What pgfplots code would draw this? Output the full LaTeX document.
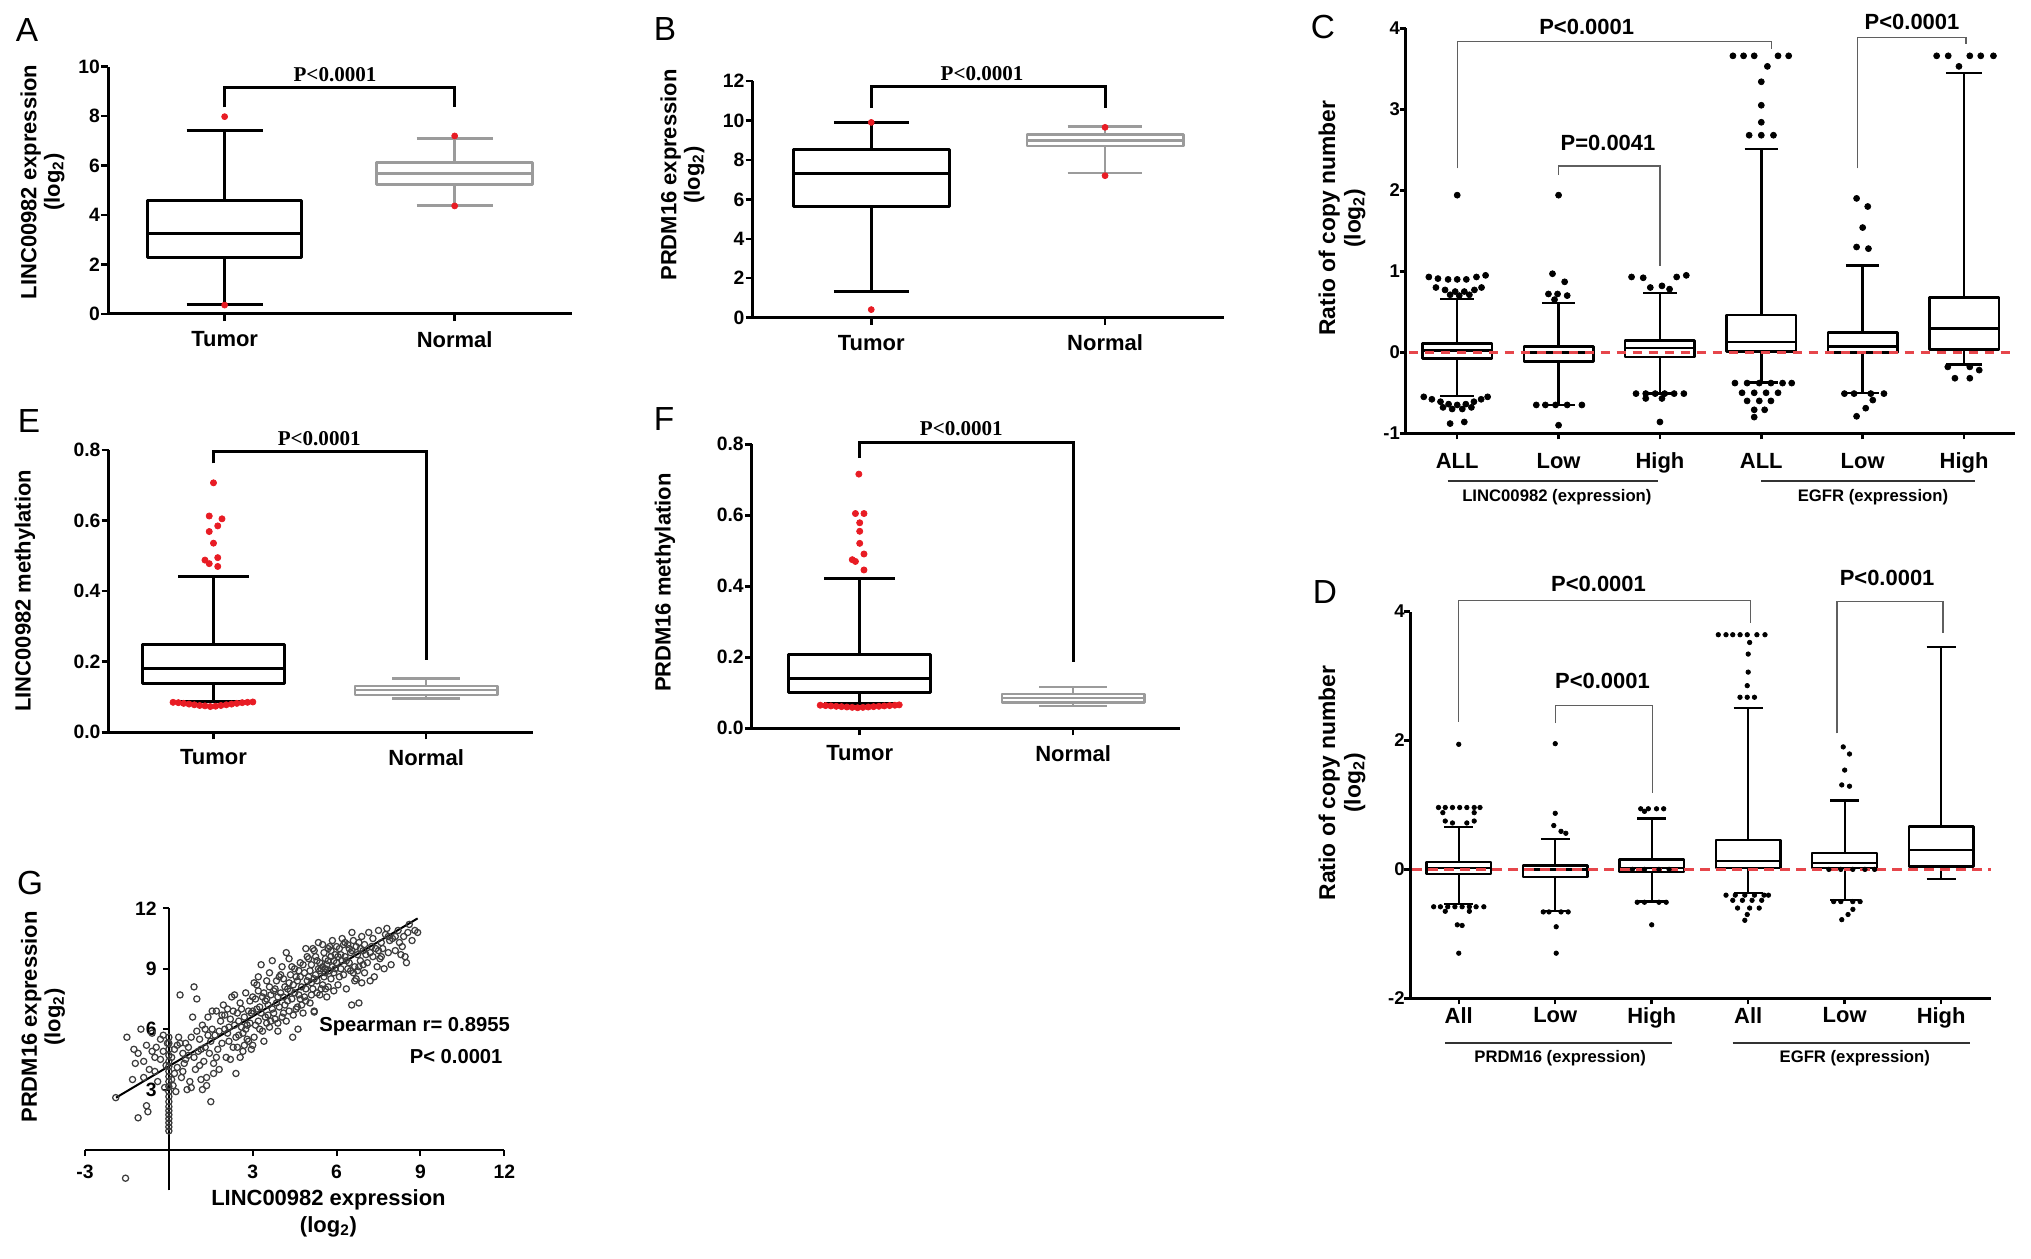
\documentclass[border=0pt]{standalone}
\usepackage{fontspec}
\setmainfont{Liberation Sans}
\newfontfamily\tnr{Liberation Serif}
\usepackage{pgfplots}
\pgfplotsset{compat=1.18}
\usepgfplotslibrary{statistics}

\definecolor{redpt}{RGB}{232,28,36}
\definecolor{dashred}{RGB}{230,70,75}
\definecolor{normgray}{RGB}{155,155,155}
\definecolor{brk}{RGB}{95,95,95}
\definecolor{circ}{RGB}{60,60,60}
\newcommand{\fs}[2]{\fontsize{#1}{#2}\selectfont}

\pgfplotsset{
  boxplot/draw direction=y,
  lw/.style={line width=#1, line join=round,
    boxplot/every box/.append style={line width=#1},
    boxplot/every median/.append style={line width=#1},
    boxplot/every whisker/.append style={line width=#1}},
  gp/.style={
    scale only axis, clip=false,
    axis x line=bottom, axis y line=left,
    axis line style={-, line width=0.6mm, black},
    tick style={line width=0.5mm, black},
    major tick length=1.4mm, tick align=outside,
    yticklabel style={font=\fs{11}{13}\bfseries, xshift=1mm},
    xticklabel style={font=\fs{12.5}{15}\bfseries, yshift=-0.8mm},
    xtick={1,2}, xticklabels={Tumor,Normal},
  },
  cn/.style={
    scale only axis, clip=false,
    axis x line=bottom, axis y line=left,
    axis line style={-, line width=0.6mm, black},
    tick style={line width=0.5mm, black},
    major tick length=1.2mm, tick align=outside,
    yticklabel style={font=\fs{10.5}{12}\bfseries, xshift=1.3mm},
    xticklabel style={font=\fs{12.5}{15}\bfseries},
    xtick={1,2,3,4,5,6},
  },
}

\begin{document}
\begin{tikzpicture}
\useasboundingbox (0,0) rectangle (406.2mm,-251.8mm);

% ---------------- A ----------------
\begin{axis}[gp, at={(21.6mm,-62.8mm)}, anchor=south west, width=92.8mm, height=49.46mm,
  xmin=0.493, xmax=2.51, ymin=0, ymax=10,
  ytick={0,2,4,6,8,10}, yticklabels={0,2,4,6,8,10}]
\addplot[black, lw=0.6mm, boxplot prepared={draw position=1, median=3.26,
  upper quartile=4.57, lower quartile=2.29, upper whisker=7.44, lower whisker=0.40,
  box extend=0.668, whisker extend=0.33}] coordinates {};
\addplot[normgray, lw=0.55mm, boxplot prepared={draw position=2, median=5.69,
  upper quartile=6.12, lower quartile=5.24, upper whisker=7.10, lower whisker=4.38,
  box extend=0.678, whisker extend=0.33}] coordinates {};
\addplot[only marks, mark=*, redpt, mark size=0.6mm] coordinates {(1,7.98) (1,0.36) (2,7.2) (2,4.37)};
\draw[line width=0.6mm] (axis cs:1,8.36) -- (axis cs:1,9.16) -- (axis cs:2,9.16) -- (axis cs:2,8.36);
\node[font=\tnr\fs{12}{14}\bfseries] at (axis cs:1.48,9.66) {P<0.0001};
\end{axis}

% ---------------- B ----------------
\begin{axis}[gp, at={(150.54mm,-63.54mm)}, anchor=south west, width=94.18mm, height=47.34mm,
  xmin=0.493, xmax=2.507, ymin=0, ymax=12,
  ytick={0,2,4,6,8,10,12}, yticklabels={0,2,4,6,8,10,12}]
\addplot[black, lw=0.6mm, boxplot prepared={draw position=1, median=7.33,
  upper quartile=8.55, lower quartile=5.64, upper whisker=9.9, lower whisker=1.32,
  box extend=0.668, whisker extend=0.32}] coordinates {};
\addplot[normgray, lw=0.55mm, boxplot prepared={draw position=2, median=8.99,
  upper quartile=9.29, lower quartile=8.70, upper whisker=9.68, lower whisker=7.33,
  box extend=0.668, whisker extend=0.32}] coordinates {};
\addplot[only marks, mark=*, redpt, mark size=0.6mm] coordinates {(1,9.9) (1,0.41) (2,9.65) (2,7.2)};
\draw[line width=0.6mm] (axis cs:1,10.64) -- (axis cs:1,11.74) -- (axis cs:2,11.74) -- (axis cs:2,10.64);
\node[font=\tnr\fs{12}{14}\bfseries] at (axis cs:1.474,12.38) {P<0.0001};
\end{axis}

% ---------------- E ----------------
\begin{axis}[gp, at={(21.72mm,-146.46mm)}, anchor=south west, width=84.8mm, height=56.46mm,
  xmin=0.507, xmax=2.50, ymin=0, ymax=0.8,
  ytick={0,0.2,0.4,0.6,0.8}, yticklabels={0.0,0.2,0.4,0.6,0.8}]
\addplot[black, lw=0.6mm, boxplot prepared={draw position=1, median=0.180,
  upper quartile=0.250, lower quartile=0.137, upper whisker=0.441, lower whisker=0.087,
  box extend=0.67, whisker extend=0.33}] coordinates {};
\addplot[normgray, lw=0.5mm, boxplot prepared={draw position=2, median=0.120,
  upper quartile=0.131, lower quartile=0.106, upper whisker=0.153, lower whisker=0.096,
  box extend=0.67, whisker extend=0.32}] coordinates {};
\addplot[only marks, mark=*, redpt, mark size=0.62mm] coordinates {
  (1,0.707) (0.98,0.613) (1.04,0.605) (0.98,0.569) (1.02,0.585) (1,0.536)
  (0.96,0.488) (1.02,0.495) (0.98,0.478) (1.02,0.47)
  (0.81,0.085) (0.835,0.084) (0.86,0.082) (0.885,0.080) (0.91,0.078) (0.935,0.076)
  (0.96,0.075) (0.985,0.073) (1.01,0.074) (1.035,0.076) (1.06,0.078) (1.085,0.080)
  (1.11,0.082) (1.135,0.084) (1.16,0.085) (1.185,0.086)};
\draw[line width=0.6mm] (axis cs:1,0.762) -- (axis cs:1,0.795) -- (axis cs:2,0.795) -- (axis cs:2,0.205);
\node[font=\tnr\fs{12}{14}\bfseries] at (axis cs:1.497,0.833) {P<0.0001};
\end{axis}

% ---------------- F ----------------
\begin{axis}[gp, at={(150.38mm,-145.66mm)}, anchor=south west, width=85.56mm, height=56.8mm,
  xmin=0.495, xmax=2.499, ymin=0, ymax=0.8,
  ytick={0,0.2,0.4,0.6,0.8}, yticklabels={0.0,0.2,0.4,0.6,0.8}]
\addplot[black, lw=0.6mm, boxplot prepared={draw position=1, median=0.141,
  upper quartile=0.207, lower quartile=0.100, upper whisker=0.421, lower whisker=0.069,
  box extend=0.666, whisker extend=0.33}] coordinates {};
\addplot[normgray, lw=0.5mm, boxplot prepared={draw position=2, median=0.085,
  upper quartile=0.097, lower quartile=0.072, upper whisker=0.117, lower whisker=0.063,
  box extend=0.666, whisker extend=0.32}] coordinates {};
\addplot[only marks, mark=*, redpt, mark size=0.62mm] coordinates {
  (0.996,0.716) (0.98,0.605) (1.02,0.605) (1,0.579) (1,0.555) (1,0.521)
  (1.02,0.491) (0.965,0.475) (0.98,0.47) (1.02,0.446)
  (0.815,0.065) (0.84,0.064) (0.865,0.063) (0.89,0.062) (0.915,0.061) (0.94,0.060)
  (0.965,0.059) (0.99,0.058) (1.015,0.059) (1.04,0.060) (1.065,0.061) (1.09,0.062)
  (1.115,0.063) (1.14,0.064) (1.165,0.065) (1.185,0.066)};
\draw[line width=0.6mm] (axis cs:1,0.761) -- (axis cs:1,0.805) -- (axis cs:2,0.805) -- (axis cs:2,0.188);
\node[font=\tnr\fs{12}{14}\bfseries] at (axis cs:1.476,0.843) {P<0.0001};
\end{axis}

% ---------------- C ----------------
\begin{axis}[cn, at={(281.1mm,-86.66mm)}, anchor=south west, width=121.96mm, height=81mm,
  xmin=0.49, xmax=6.506, ymin=-1, ymax=4,
  ytick={-1,0,1,2,3,4}, yticklabels={-1,0,1,2,3,4},
  xticklabels={ALL,Low,High,ALL,Low,High},
  xticklabel style={yshift=-1.5mm}]
\addplot[black, lw=0.5mm, boxplot prepared={draw position=1, median=0.02,
  upper quartile=0.11, lower quartile=-0.074, upper whisker=0.66, lower whisker=-0.54,
  box extend=0.686, whisker extend=0.33}] coordinates {};
\addplot[black, lw=0.5mm, boxplot prepared={draw position=2, median=0.0,
  upper quartile=0.07, lower quartile=-0.115, upper whisker=0.61, lower whisker=-0.65,
  box extend=0.686, whisker extend=0.33}] coordinates {};
\addplot[black, lw=0.5mm, boxplot prepared={draw position=3, median=0.05,
  upper quartile=0.144, lower quartile=-0.06, upper whisker=0.73, lower whisker=-0.51,
  box extend=0.686, whisker extend=0.33}] coordinates {};
\addplot[black, lw=0.5mm, boxplot prepared={draw position=4, median=0.13,
  upper quartile=0.46, lower quartile=0.01, upper whisker=2.51, lower whisker=-0.37,
  box extend=0.686, whisker extend=0.33}] coordinates {};
\addplot[black, lw=0.5mm, boxplot prepared={draw position=5, median=0.07,
  upper quartile=0.243, lower quartile=0.0, upper whisker=1.07, lower whisker=-0.5,
  box extend=0.686, whisker extend=0.33}] coordinates {};
\addplot[black, lw=0.5mm, boxplot prepared={draw position=6, median=0.296,
  upper quartile=0.675, lower quartile=0.037, upper whisker=3.45, lower whisker=-0.15,
  box extend=0.686, whisker extend=0.36}] coordinates {};
\addplot[only marks, mark=*, black, mark size=0.6mm] coordinates {
  (1,1.94) (0.72,0.93) (0.81,0.91) (0.91,0.90) (1.0,0.90) (1.09,0.90) (1.19,0.93) (1.28,0.95)
  (0.79,0.80) (0.88,0.77) (0.98,0.75) (1.07,0.75) (1.17,0.77) (1.24,0.80)
  (0.93,0.71) (1.02,0.70) (1.12,0.71)
  (0.67,-0.55) (0.75,-0.58) (0.835,-0.61) (0.915,-0.64) (1,-0.65) (1.085,-0.64)
  (1.165,-0.61) (1.236,-0.58) (1.3,-0.55) (0.86,-0.68) (0.95,-0.70) (1.05,-0.70)
  (1.14,-0.68) (0.93,-0.88) (1.07,-0.86)
  (2,1.94) (1.94,0.97) (2.06,0.87) (1.9,0.72) (1.99,0.72) (2.085,0.70) (1.96,0.65)
  (1.78,-0.65) (1.87,-0.65) (1.97,-0.65) (2.085,-0.65) (2.23,-0.65) (2,-0.9)
  (2.72,0.93) (2.835,0.92) (3.165,0.93) (3.26,0.95) (2.905,0.80) (3.02,0.82) (3.095,0.78)
  (2.764,-0.51) (2.86,-0.51) (2.953,-0.51) (3.047,-0.51) (3.14,-0.51) (3.236,-0.51)
  (2.86,-0.57) (3.02,-0.57) (3.0,-0.86)
  (3.72,3.66) (3.825,3.66) (3.93,3.66) (4.165,3.66) (4.27,3.66) (4.06,3.53) (4.0,3.34)
  (4.0,3.05) (4.0,2.84) (3.88,2.68) (4.0,2.68) (4.12,2.68)
  (3.74,-0.38) (3.86,-0.38) (3.98,-0.38) (4.095,-0.38) (4.21,-0.38) (4.3,-0.38)
  (3.81,-0.50) (3.93,-0.50) (4.047,-0.50) (4.165,-0.50) (3.86,-0.60) (3.98,-0.60)
  (4.095,-0.60) (3.93,-0.71) (4.033,-0.71) (3.93,-0.80)
  (4.94,1.90) (5.05,1.80) (5.0,1.54) (4.94,1.30) (5.057,1.28)
  (4.82,-0.51) (4.915,-0.51) (5.08,-0.51) (5.21,-0.51) (5.1,-0.59) (5.03,-0.69) (4.94,-0.79)
  (5.73,3.66) (5.844,3.66) (6.057,3.66) (6.165,3.66) (6.29,3.66) (5.95,3.53)
  (5.84,-0.18) (6.057,-0.18) (6.15,-0.22) (5.91,-0.32) (6.057,-0.32)};
\addplot[dashred, line width=0.5mm, dash pattern=on 1.9mm off 1.3mm] coordinates {(0.52,0) (6.5,0)};
\draw[brk, line width=0.25mm] (axis cs:1,2.27) -- (axis cs:1,3.84) -- (axis cs:4.1,3.84) -- (axis cs:4.1,3.75);
\draw[brk, line width=0.25mm] (axis cs:2,2.19) -- (axis cs:2,2.30) -- (axis cs:3,2.30) -- (axis cs:3,1.06);
\draw[brk, line width=0.25mm] (axis cs:4.95,2.27) -- (axis cs:4.95,3.89) -- (axis cs:6.02,3.89) -- (axis cs:6.02,3.81);
\node[font=\fs{12.5}{15}\bfseries] at (axis cs:2.277,4.02) {P<0.0001};
\node[font=\fs{12.5}{15}\bfseries] at (axis cs:2.488,2.58) {P=0.0041};
\node[font=\fs{12.5}{15}\bfseries] at (axis cs:5.487,4.08) {P<0.0001};
\end{axis}

% ---------------- D ----------------
\begin{axis}[cn, at={(282.06mm,-199.66mm)}, anchor=south west, width=116.2mm, height=77.36mm,
  xmin=0.498, xmax=6.52, ymin=-2, ymax=4,
  ytick={-2,0,2,4}, yticklabels={-2,0,2,4},
  xticklabels={All,Low,High,All,Low,High},
  xticklabel style={yshift=0.6mm}]
\addplot[black, lw=0.45mm, boxplot prepared={draw position=1, median=0.017,
  upper quartile=0.11, lower quartile=-0.067, upper whisker=0.66, lower whisker=-0.54,
  box extend=0.67, whisker extend=0.3}] coordinates {};
\addplot[black, lw=0.45mm, boxplot prepared={draw position=2, median=0.0,
  upper quartile=0.06, lower quartile=-0.12, upper whisker=0.47, lower whisker=-0.64,
  box extend=0.67, whisker extend=0.3}] coordinates {};
\addplot[black, lw=0.45mm, boxplot prepared={draw position=3, median=0.02,
  upper quartile=0.155, lower quartile=-0.04, upper whisker=0.79, lower whisker=-0.5,
  box extend=0.67, whisker extend=0.3}] coordinates {};
\addplot[black, lw=0.45mm, boxplot prepared={draw position=4, median=0.13,
  upper quartile=0.46, lower quartile=0.017, upper whisker=2.5, lower whisker=-0.37,
  box extend=0.67, whisker extend=0.3}] coordinates {};
\addplot[black, lw=0.45mm, boxplot prepared={draw position=5, median=0.1,
  upper quartile=0.25, lower quartile=0.017, upper whisker=1.07, lower whisker=-0.48,
  box extend=0.67, whisker extend=0.3}] coordinates {};
\addplot[black, lw=0.45mm, boxplot prepared={draw position=6, median=0.306,
  upper quartile=0.667, lower quartile=0.044, upper whisker=3.45, lower whisker=-0.15,
  box extend=0.67, whisker extend=0.3}] coordinates {};
\addplot[only marks, mark=*, black, mark size=0.45mm] coordinates {
  (1,1.94) (0.79,0.96) (0.86,0.96) (0.935,0.96) (1.01,0.96) (1.084,0.96) (1.16,0.96) (1.22,0.96)
  (0.835,0.88) (1.16,0.88) (0.86,0.75) (0.935,0.72) (1.084,0.72) (1.16,0.75)
  (0.74,-0.58) (0.81,-0.58) (0.886,-0.58) (0.96,-0.58) (1.035,-0.58) (1.11,-0.58)
  (1.18,-0.58) (1.26,-0.58) (0.86,-0.65) (1.11,-0.65) (0.985,-0.86) (1.035,-0.87) (1,-1.3)
  (2,1.95) (2,0.87) (1.985,0.68) (2.06,0.59) (2.11,0.56)
  (1.876,-0.66) (1.935,-0.66) (2.06,-0.66) (2.134,-0.66) (2.01,-0.89) (2.01,-1.3)
  (2.886,0.94) (2.965,0.94) (3.05,0.94) (3.124,0.94) (2.925,0.90)
  (2.85,-0.51) (2.925,-0.51) (3.075,-0.51) (3.15,-0.51) (3,-0.86)
  (2.8,0) (2.925,0) (3.075,0) (3.18,0)
  (3.69,3.64) (3.77,3.64) (3.84,3.64) (3.916,3.64) (3.99,3.64) (4.09,3.64) (4.174,3.64)
  (4.015,3.52) (4,3.34) (4,3.06) (3.99,2.85) (3.915,2.67) (3.99,2.67) (4.065,2.67)
  (3.77,-0.40) (3.866,-0.40) (3.965,-0.40) (4.065,-0.40) (4.164,-0.40) (4.21,-0.40)
  (3.84,-0.48) (3.94,-0.48) (4.04,-0.48) (4.14,-0.48) (3.89,-0.60) (4.015,-0.60)
  (4.114,-0.60) (3.99,-0.70) (3.965,-0.79)
  (4.985,1.90) (5.05,1.79) (5,1.54) (4.97,1.31) (5.05,1.29)
  (4.886,-0.50) (4.96,-0.50) (5.084,-0.50) (5.16,-0.50) (5.085,-0.62) (5.035,-0.70) (4.97,-0.78)
  (4.836,0) (4.96,0) (5.084,0) (5.21,0) (5.31,0)};
\addplot[dashred, line width=0.65mm, dash pattern=on 1.9mm off 1.3mm] coordinates {(0.52,0) (6.52,0)};
\draw[brk, line width=0.25mm] (axis cs:1,2.29) -- (axis cs:1,4.17) -- (axis cs:4.02,4.17) -- (axis cs:4.02,3.82);
\draw[brk, line width=0.25mm] (axis cs:2,2.27) -- (axis cs:2,2.54) -- (axis cs:3.01,2.54) -- (axis cs:3.01,1.18);
\draw[brk, line width=0.25mm] (axis cs:4.92,2.11) -- (axis cs:4.92,4.16) -- (axis cs:6.02,4.16) -- (axis cs:6.02,3.66);
\node[font=\fs{12.5}{15}\bfseries] at (axis cs:2.449,4.43) {P<0.0001};
\node[font=\fs{12.5}{15}\bfseries] at (axis cs:2.49,2.93) {P<0.0001};
\node[font=\fs{12.5}{15}\bfseries] at (axis cs:5.44,4.52) {P<0.0001};
\end{axis}

% ---------------- G ----------------
\begin{axis}[scale only axis, clip=false, at={(17mm,-238.06mm)}, anchor=south west,
  width=83.86mm, height=56.4mm, xmin=-3, xmax=12, ymin=-2, ymax=12,
  axis lines=middle, axis line style={-, line width=0.45mm, black},
  tick style={line width=0.4mm, black}, major tick length=1.2mm, tick align=outside,
  xtick={-3,3,6,9,12}, xticklabels={-3,3,6,9,12},
  ytick={3,6,9,12}, yticklabels={3,6,9,12},
  xticklabel style={font=\fs{11}{13}\bfseries, yshift=-0.6mm},
  yticklabel style={font=\fs{11}{13}\bfseries}]
\addplot[only marks, mark=o, circ, mark size=0.62mm, mark options={line width=0.25mm}] coordinates {
  (-1.9,2.6) (-1.2,4.3) (-1.1,4.8) (-1.0,6.0) (-0.9,4.4) (-0.8,5.2) (-0.7,4.0) (-0.6,5.8)
  (-0.5,4.6) (-0.4,3.4) (-0.3,5.5) (-0.2,4.9) (-0.1,4.2) (-1.3,3.5) (-0.9,3.6) (-0.6,4.9)
  (-0.3,4.5) (-0.2,5.7) (-1.1,1.6) (-0.8,2.2) (-0.75,1.9) (-0.5,3.9) (-0.45,5.1) (-1.5,5.6)
  (-1.25,5.0) (-0.15,3.1) (-0.05,5.3) (-1.55,-1.4)
  (0,0.95) (0,1.15) (0,1.35) (0,1.55) (0,1.75) (0,1.95) (0,2.15) (0,2.4) (0,2.65) (0,2.9)
  (0,3.15) (0,3.4) (0,3.65) (0,3.9) (0,4.15) (0,4.4) (0,4.7) (0,5.0) (0,5.3) (0,5.6)
  (0.1,4.6) (0.15,3.2) (0.2,5.0) (0.25,2.9) (0.3,4.1) (0.35,5.6) (0.4,7.7) (0.45,3.6)
  (0.5,4.8) (0.55,4.3) (0.6,5.3) (0.65,3.0) (0.7,4.7) (0.75,3.4) (0.8,5.6) (0.85,6.6)
  (0.9,8.1) (0.95,4.0) (1.0,7.5) (0.3,5.2) (0.5,3.9) (0.7,5.1) (0.2,3.8) (0.6,4.5)
  (0.9,4.6) (0.4,5.3) (0.8,3.1) (0.1,3.5)
  (1.05,4.9) (1.1,5.5) (1.15,3.5) (1.2,6.2) (1.25,4.4) (1.3,5.1) (1.35,3.2) (1.4,6.6)
  (1.45,4.8) (1.5,2.4) (1.5,5.4) (1.55,6.0) (1.6,4.3) (1.65,5.7) (1.7,6.9) (1.75,5.0)
  (1.8,4.0) (1.85,6.4) (1.9,5.3) (1.95,7.2) (1.1,4.2) (1.3,6.0) (1.6,3.8) (1.8,5.9)
  (1.2,3.0) (1.4,5.7) (1.7,4.6) (1.9,6.7) (1.0,5.9) (1.55,6.9) (1.35,3.6) (1.15,5.0)
  (2.0,6.0) (2.05,4.6) (2.1,7.0) (2.15,5.4) (2.2,6.5) (2.25,7.6) (2.3,5.1) (2.35,6.2)
  (2.4,3.8) (2.45,6.8) (2.5,5.7) (2.55,7.3) (2.6,6.1) (2.65,4.9) (2.7,6.6) (2.75,7.8)
  (2.8,5.5) (2.85,6.9) (2.9,6.3) (2.95,5.0) (2.1,5.8) (2.3,6.9) (2.5,6.4) (2.7,5.2)
  (2.9,7.4) (2.2,4.5) (2.4,5.6) (2.6,7.0) (2.8,6.2) (2.0,6.7) (2.35,7.7) (2.65,5.8)
  (2.95,6.8) (2.15,6.1) (2.45,5.1) (2.75,6.0) (2.55,4.6) (2.85,5.4)
  (3.0,6.9) (3.05,5.6) (3.1,7.5) (3.15,8.2) (3.2,6.4) (3.25,7.1) (3.3,9.2) (3.35,5.9)
  (3.4,7.8) (3.45,6.6) (3.5,8.4) (3.55,7.2) (3.6,6.1) (3.65,7.7) (3.7,9.4) (3.75,6.8)
  (3.8,8.0) (3.85,7.3) (3.9,6.3) (3.95,8.6) (3.0,7.6) (3.1,6.2) (3.2,7.9) (3.3,6.8)
  (3.4,5.4) (3.5,7.5) (3.6,8.1) (3.7,7.0) (3.8,6.5) (3.9,7.6) (3.05,8.3) (3.25,6.0)
  (3.45,7.4) (3.65,6.4) (3.85,8.4) (3.15,7.0) (3.35,7.6) (3.55,6.7) (3.75,7.9) (3.95,7.1)
  (3.0,5.2) (3.5,6.3) (3.9,5.9) (3.2,8.6) (3.6,8.8)
  (4.0,7.8) (4.05,6.6) (4.1,8.5) (4.15,7.2) (4.2,9.8) (4.25,8.0) (4.3,6.9) (4.35,8.7)
  (4.4,7.5) (4.43,5.6) (4.45,8.2) (4.5,9.0) (4.55,7.0) (4.6,8.4) (4.62,6.0) (4.65,7.7)
  (4.7,9.3) (4.75,8.1) (4.8,6.8) (4.85,8.8) (4.9,7.4) (4.95,9.6) (4.0,8.7) (4.1,7.6)
  (4.2,6.4) (4.3,8.3) (4.4,9.1) (4.5,7.8) (4.6,7.1) (4.7,8.6) (4.8,9.2) (4.9,8.0)
  (4.05,9.1) (4.25,7.4) (4.45,6.7) (4.65,8.9) (4.85,7.6) (4.15,8.1) (4.35,7.9) (4.55,8.6)
  (4.75,7.2) (4.95,8.4) (4.3,9.5) (4.7,7.5) (4.9,10.0) (4.1,6.8)
  (5.0,8.6) (5.05,7.3) (5.1,9.2) (5.15,8.0) (5.2,6.9) (5.25,9.6) (5.3,8.4) (5.35,10.3)
  (5.4,7.7) (5.45,9.0) (5.5,8.2) (5.55,9.8) (5.6,8.8) (5.65,7.6) (5.7,9.4) (5.75,10.1)
  (5.8,8.5) (5.85,9.1) (5.9,7.9) (5.95,9.7) (5.0,9.5) (5.1,8.3) (5.2,9.9) (5.3,7.8)
  (5.4,9.3) (5.5,10.2) (5.6,9.0) (5.7,8.1) (5.8,9.6) (5.9,8.8) (5.05,8.9) (5.25,8.7)
  (5.45,8.0) (5.65,9.2) (5.85,10.4) (5.15,10.0) (5.35,9.0) (5.55,8.6) (5.75,8.9) (5.95,9.0)
  (5.2,8.5) (5.4,8.9) (5.6,9.5) (5.8,9.9) (5.3,9.4) (5.7,10.0) (5.5,9.1) (5.9,9.4)
  (5.1,7.7) (5.6,8.0) (5.2,6.85)
  (6.0,9.3) (6.05,8.2) (6.1,10.0) (6.15,9.0) (6.2,10.5) (6.25,8.7) (6.3,9.6) (6.35,8.0)
  (6.4,10.2) (6.45,9.3) (6.5,8.9) (6.54,7.2) (6.55,9.9) (6.6,10.4) (6.65,9.1) (6.7,8.5)
  (6.75,9.7) (6.8,10.3) (6.85,9.4) (6.9,8.3) (6.95,9.9) (6.0,10.1) (6.1,8.6) (6.2,9.4)
  (6.3,10.3) (6.4,9.0) (6.5,9.8) (6.6,8.8) (6.7,10.1) (6.8,9.1) (6.9,10.6) (6.15,9.7)
  (6.35,9.4) (6.55,10.8) (6.75,8.9) (6.95,9.2) (6.05,9.6) (6.45,10.0) (6.85,10.0) (6.25,10.2)
  (6.65,8.4) (6.8,7.3)
  (7.0,10.2) (7.1,9.3) (7.15,10.8) (7.2,9.8) (7.3,10.5) (7.35,8.6) (7.4,10.0) (7.5,10.9)
  (7.55,9.5) (7.6,10.3) (7.7,9.0) (7.75,10.7) (7.8,11.0) (7.85,9.8) (7.9,10.4) (7.95,9.2)
  (7.05,9.7) (7.25,10.1) (7.45,9.1) (7.65,10.0) (7.85,10.6) (7.2,8.4) (7.5,9.9) (7.0,8.8)
  (7.6,9.6) (7.3,9.6)
  (8.0,10.5) (8.1,9.9) (8.2,10.9) (8.3,9.7) (8.4,10.6) (8.5,9.3) (8.6,11.2) (8.7,10.4)
  (8.8,10.9) (8.9,10.8) (8.1,10.6) (8.35,10.1) (8.55,10.8) (8.45,9.6) (8.25,10.3)};
\addplot[black, line width=0.4mm] coordinates {(-1.89,2.6) (8.9,11.5)};
\end{axis}

% ---------------- annotations ----------------
\begin{scope}[x=0.2mm, y=-0.2mm]
\foreach \l/\x/\y in {A/27/30, B/665/29, C/1323/27.5, D/1325/592, E/29/421, F/664/419, G/30/883}
  \node[font=\fs{19}{22}] at (\x,\y) {\l};
\node[rotate=90, align=center, font=\fs{12.5}{13.5}\bfseries] at (42.5,182) {LINC00982 expression\\(log\textsubscript{2})};
\node[rotate=90, align=center, font=\fs{12.5}{13.5}\bfseries] at (682.5,175) {PRDM16 expression\\(log\textsubscript{2})};
\node[rotate=90, font=\fs{12.5}{13.5}\bfseries] at (25,590.7) {LINC00982 methylation};
\node[rotate=90, font=\fs{12.5}{13.5}\bfseries] at (665,582.7) {PRDM16 methylation};
\node[rotate=90, align=center, font=\fs{13}{14.5}\bfseries] at (1342,218.3) {Ratio of copy number\\(log\textsubscript{2})};
\node[rotate=90, align=center, font=\fs{13}{14.5}\bfseries] at (1342,783) {Ratio of copy number\\(log\textsubscript{2})};
\node[rotate=90, align=center, font=\fs{12.5}{13.5}\bfseries] at (43,1017) {PRDM16 expression\\(log\textsubscript{2})};
% group labels C
\draw[black!80, line width=0.3mm] (1447.7,481) -- (1658.4,481);
\draw[black!80, line width=0.3mm] (1761.4,481) -- (1974.6,481);
\node[font=\fs{9.5}{11}\bfseries] at (1556.9,496.7) {LINC00982 (expression)};
\node[font=\fs{9.5}{11}\bfseries] at (1873,496.7) {EGFR (expression)};
% group labels D
\draw[black!80, line width=0.3mm] (1445.3,1043) -- (1672.3,1043);
\draw[black!80, line width=0.3mm] (1732.7,1043) -- (1969.8,1043);
\node[font=\fs{9.5}{11}\bfseries] at (1560.2,1058) {PRDM16 (expression)};
\node[font=\fs{9.5}{11}\bfseries] at (1854.8,1058) {EGFR (expression)};
% G texts
\node[font=\fs{12.5}{14}\bfseries] at (328.5,1200) {LINC00982 expression};
\node[font=\fs{12.5}{14}\bfseries] at (328.5,1226.7) {(log\textsubscript{2})};
\node[anchor=east, font=\fs{11.5}{13}\bfseries] at (516,1026.7) {Spearman r= 0.8955};
\node[anchor=east, font=\fs{11.5}{13}\bfseries] at (508.7,1056.7) {P< 0.0001};
\end{scope}
\end{tikzpicture}
\end{document}
